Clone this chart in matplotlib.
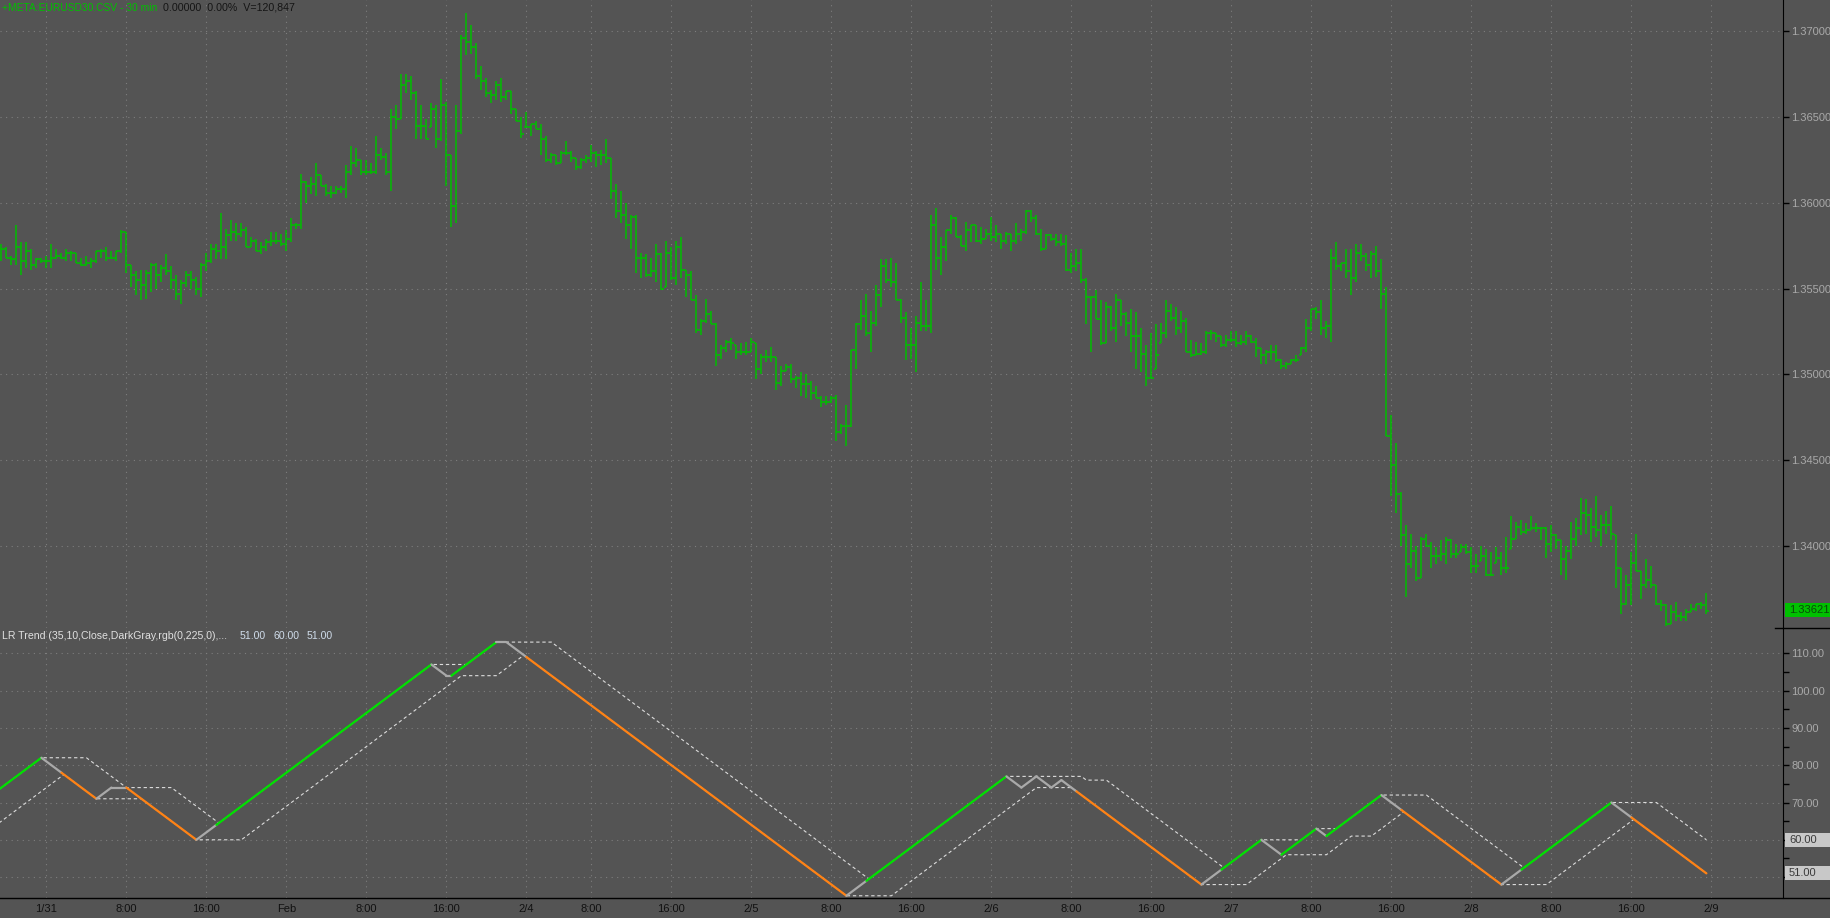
import numpy as np
import matplotlib.pyplot as plt
from matplotlib.patches import Rectangle

# 30 min EURUSD bars, bar index 0 = 1/31 00:00 (first 9 bars are from 1/30)
first_bar = -9

high = [
    1.3576, 1.3574, 1.3569, 1.3587, 1.3577, 1.3577, 1.3573, 1.3568, 1.3568,
    1.3569, 1.3576, 1.3573, 1.3571, 1.3573, 1.3572, 1.3571, 1.3568, 1.3569, 1.3568,
    1.3572, 1.3573, 1.3574, 1.3572, 1.3572, 1.3584, 1.3583, 1.3564, 1.3560, 1.3561,
    1.3561, 1.3565, 1.3565, 1.3564, 1.3570, 1.3563, 1.3558, 1.3555, 1.3560, 1.3560,
    1.3557, 1.3565, 1.3571, 1.3576, 1.3576, 1.3594, 1.3585, 1.3590, 1.3588, 1.3588,
    1.3586, 1.3580, 1.3579, 1.3577, 1.3579, 1.3583, 1.3583, 1.3582, 1.3584, 1.3591,
    1.3588, 1.3617, 1.3613, 1.3615, 1.3623, 1.3616, 1.3611, 1.3610, 1.3610, 1.3610,
    1.3622, 1.3633, 1.3632, 1.3625, 1.3625, 1.3623, 1.3639, 1.3632, 1.3629, 1.3655,
    1.3657, 1.3675, 1.3675, 1.3674, 1.3665, 1.3657, 1.3649, 1.3658, 1.3657, 1.3672,
    1.3659, 1.3628, 1.3657, 1.3698, 1.3711, 1.3704, 1.3693, 1.3680, 1.3673, 1.3666,
    1.3671, 1.3673, 1.3665, 1.3665, 1.3655, 1.3650, 1.3653, 1.3646, 1.3648, 1.3646,
    1.3639, 1.3629, 1.3628, 1.3630, 1.3636, 1.3630, 1.3626, 1.3626, 1.3628, 1.3634,
    1.3630, 1.3631, 1.3637, 1.3626, 1.3611, 1.3607, 1.3600, 1.3593, 1.3593, 1.3571,
    1.3570, 1.3568, 1.3576, 1.3571, 1.3578, 1.3574, 1.3578, 1.3580, 1.3561, 1.3560,
    1.3546, 1.3532, 1.3544, 1.3537, 1.3530, 1.3517, 1.3520, 1.3521, 1.3517, 1.3518,
    1.3519, 1.3521, 1.3518, 1.3512, 1.3514, 1.3516, 1.3510, 1.3505, 1.3506, 1.3506,
    1.3499, 1.3501, 1.3500, 1.3496, 1.3493, 1.3487, 1.3487, 1.3487, 1.3488, 1.3471,
    1.3482, 1.3514, 1.3530, 1.3543, 1.3547, 1.3537, 1.3552, 1.3567, 1.3567, 1.3568,
    1.3565, 1.3544, 1.3536, 1.3527, 1.3534, 1.3554, 1.3543, 1.3593, 1.3597, 1.3580,
    1.3584, 1.3593, 1.3592, 1.3581, 1.3589, 1.3587, 1.3587, 1.3586, 1.3585, 1.3592,
    1.3587, 1.3582, 1.3583, 1.3582, 1.3588, 1.3585, 1.3596, 1.3596, 1.3593, 1.3585,
    1.3582, 1.3582, 1.3582, 1.3582, 1.3581, 1.3571, 1.3573, 1.3573, 1.3556, 1.3545,
    1.3549, 1.3543, 1.3542, 1.3540, 1.3547, 1.3543, 1.3536, 1.3538, 1.3536, 1.3527,
    1.3517, 1.3524, 1.3529, 1.3530, 1.3543, 1.3541, 1.3539, 1.3537, 1.3533, 1.3520,
    1.3519, 1.3518, 1.3525, 1.3526, 1.3524, 1.3522, 1.3523, 1.3525, 1.3525, 1.3523,
    1.3525, 1.3523, 1.3521, 1.3515, 1.3514, 1.3517, 1.3517, 1.3509, 1.3507, 1.3509,
    1.3511, 1.3516, 1.3532, 1.3538, 1.3539, 1.3543, 1.3531, 1.3573, 1.3577, 1.3565,
    1.3573, 1.3573, 1.3576, 1.3576, 1.3571, 1.3572, 1.3575, 1.3567, 1.3551, 1.3476,
    1.3460, 1.3431, 1.3412, 1.3407, 1.3400, 1.3405, 1.3407, 1.3402, 1.3399, 1.3403,
    1.3405, 1.3404, 1.3401, 1.3401, 1.3401, 1.3399, 1.3395, 1.3400, 1.3398, 1.3396,
    1.3399, 1.3396, 1.3405, 1.3417, 1.3414, 1.3415, 1.3413, 1.3417, 1.3413, 1.3411,
    1.3411, 1.3412, 1.3407, 1.3403, 1.3400, 1.3414, 1.3416, 1.3428, 1.3427, 1.3422,
    1.3429, 1.3418, 1.3420, 1.3423, 1.3406, 1.3387, 1.3383, 1.3396, 1.3407, 1.3385,
    1.3392, 1.3388, 1.3377, 1.3368, 1.3366, 1.3365, 1.3367, 1.3361, 1.3363, 1.3366,
    1.3366, 1.3367, 1.3372,
]
low = [
    1.3566, 1.3568, 1.3564, 1.3564, 1.3558, 1.3562, 1.3561, 1.3562, 1.3565,
    1.3562, 1.3562, 1.3567, 1.3567, 1.3566, 1.3566, 1.3565, 1.3563, 1.3563, 1.3562,
    1.3565, 1.3568, 1.3566, 1.3567, 1.3566, 1.3571, 1.3559, 1.3551, 1.3546, 1.3543,
    1.3544, 1.3548, 1.3550, 1.3554, 1.3558, 1.3550, 1.3543, 1.3541, 1.3551, 1.3550,
    1.3546, 1.3545, 1.3560, 1.3565, 1.3567, 1.3567, 1.3567, 1.3578, 1.3578, 1.3580,
    1.3574, 1.3574, 1.3572, 1.3570, 1.3572, 1.3575, 1.3576, 1.3575, 1.3572, 1.3577,
    1.3585, 1.3585, 1.3600, 1.3605, 1.3604, 1.3610, 1.3604, 1.3603, 1.3605, 1.3606,
    1.3603, 1.3616, 1.3621, 1.3616, 1.3616, 1.3617, 1.3617, 1.3625, 1.3616, 1.3607,
    1.3643, 1.3649, 1.3664, 1.3660, 1.3637, 1.3637, 1.3637, 1.3644, 1.3632, 1.3636,
    1.3610, 1.3586, 1.3588, 1.3640, 1.3686, 1.3687, 1.3672, 1.3666, 1.3662, 1.3658,
    1.3660, 1.3659, 1.3660, 1.3652, 1.3648, 1.3638, 1.3644, 1.3639, 1.3643, 1.3628,
    1.3624, 1.3623, 1.3622, 1.3623, 1.3628, 1.3624, 1.3619, 1.3620, 1.3623, 1.3624,
    1.3621, 1.3622, 1.3623, 1.3602, 1.3591, 1.3588, 1.3579, 1.3573, 1.3559, 1.3556,
    1.3557, 1.3557, 1.3554, 1.3549, 1.3551, 1.3555, 1.3552, 1.3556, 1.3545, 1.3543,
    1.3524, 1.3523, 1.3530, 1.3529, 1.3505, 1.3509, 1.3513, 1.3514, 1.3509, 1.3511,
    1.3511, 1.3513, 1.3497, 1.3500, 1.3507, 1.3507, 1.3491, 1.3493, 1.3502, 1.3495,
    1.3492, 1.3487, 1.3486, 1.3485, 1.3486, 1.3481, 1.3482, 1.3483, 1.3461, 1.3465,
    1.3458, 1.3469, 1.3503, 1.3526, 1.3522, 1.3513, 1.3528, 1.3539, 1.3553, 1.3551,
    1.3543, 1.3530, 1.3508, 1.3509, 1.3501, 1.3525, 1.3525, 1.3524, 1.3561, 1.3558,
    1.3566, 1.3582, 1.3580, 1.3575, 1.3572, 1.3577, 1.3577, 1.3576, 1.3579, 1.3578,
    1.3577, 1.3573, 1.3576, 1.3572, 1.3576, 1.3578, 1.3582, 1.3589, 1.3581, 1.3572,
    1.3573, 1.3578, 1.3575, 1.3575, 1.3560, 1.3559, 1.3560, 1.3553, 1.3529, 1.3513,
    1.3532, 1.3517, 1.3518, 1.3525, 1.3519, 1.3528, 1.3522, 1.3513, 1.3503, 1.3501,
    1.3493, 1.3498, 1.3503, 1.3518, 1.3521, 1.3531, 1.3523, 1.3524, 1.3513, 1.3510,
    1.3511, 1.3511, 1.3512, 1.3520, 1.3519, 1.3516, 1.3516, 1.3519, 1.3516, 1.3517,
    1.3517, 1.3518, 1.3510, 1.3506, 1.3506, 1.3508, 1.3507, 1.3503, 1.3503, 1.3506,
    1.3507, 1.3511, 1.3513, 1.3525, 1.3532, 1.3523, 1.3521, 1.3519, 1.3561, 1.3560,
    1.3556, 1.3546, 1.3554, 1.3566, 1.3560, 1.3556, 1.3557, 1.3538, 1.3464, 1.3429,
    1.3419, 1.3400, 1.3370, 1.3387, 1.3379, 1.3381, 1.3399, 1.3387, 1.3389, 1.3391,
    1.3389, 1.3393, 1.3393, 1.3396, 1.3395, 1.3384, 1.3384, 1.3391, 1.3382, 1.3382,
    1.3390, 1.3383, 1.3384, 1.3398, 1.3404, 1.3406, 1.3407, 1.3409, 1.3408, 1.3403,
    1.3393, 1.3396, 1.3398, 1.3383, 1.3380, 1.3392, 1.3400, 1.3406, 1.3407, 1.3402,
    1.3405, 1.3400, 1.3407, 1.3403, 1.3375, 1.3360, 1.3365, 1.3365, 1.3385, 1.3369,
    1.3375, 1.3375, 1.3365, 1.3362, 1.3353, 1.3354, 1.3356, 1.3356, 1.3356, 1.3361,
    1.3362, 1.3363, 1.3360,
]
close = [
    1.3573, 1.3568, 1.3567, 1.3574, 1.3566, 1.3572, 1.3564, 1.3567, 1.3566,
    1.3566, 1.3568, 1.3569, 1.3568, 1.3571, 1.3571, 1.3565, 1.3564, 1.3565, 1.3566,
    1.3572, 1.3572, 1.3568, 1.3568, 1.3572, 1.3583, 1.3564, 1.3558, 1.3555, 1.3552,
    1.3559, 1.3564, 1.3558, 1.3562, 1.3560, 1.3555, 1.3547, 1.3553, 1.3558, 1.3555,
    1.3550, 1.3564, 1.3566, 1.3573, 1.3572, 1.3574, 1.3581, 1.3583, 1.3582, 1.3584,
    1.3574, 1.3578, 1.3572, 1.3574, 1.3577, 1.3578, 1.3578, 1.3576, 1.3579, 1.3587,
    1.3587, 1.3612, 1.3610, 1.3611, 1.3616, 1.3610, 1.3606, 1.3606, 1.3608, 1.3608,
    1.3618, 1.3623, 1.3625, 1.3618, 1.3618, 1.3618, 1.3628, 1.3627, 1.3618, 1.3650,
    1.3649, 1.3669, 1.3671, 1.3664, 1.3645, 1.3645, 1.3637, 1.3655, 1.3637, 1.3657,
    1.3628, 1.3598, 1.3642, 1.3696, 1.3694, 1.3691, 1.3674, 1.3671, 1.3664, 1.3663,
    1.3669, 1.3662, 1.3665, 1.3655, 1.3648, 1.3640, 1.3644, 1.3646, 1.3643, 1.3637,
    1.3625, 1.3628, 1.3623, 1.3629, 1.3629, 1.3626, 1.3621, 1.3625, 1.3626, 1.3629,
    1.3628, 1.3628, 1.3626, 1.3607, 1.3595, 1.3593, 1.3587, 1.3592, 1.3568, 1.3568,
    1.3558, 1.3560, 1.3570, 1.3550, 1.3571, 1.3556, 1.3574, 1.3561, 1.3558, 1.3543,
    1.3526, 1.3531, 1.3535, 1.3529, 1.3511, 1.3515, 1.3519, 1.3518, 1.3513, 1.3513,
    1.3513, 1.3519, 1.3503, 1.3510, 1.3510, 1.3510, 1.3495, 1.3502, 1.3504, 1.3497,
    1.3498, 1.3494, 1.3494, 1.3489, 1.3486, 1.3484, 1.3484, 1.3486, 1.3466, 1.3470,
    1.3470, 1.3514, 1.3529, 1.3534, 1.3524, 1.3530, 1.3546, 1.3563, 1.3555, 1.3554,
    1.3543, 1.3533, 1.3517, 1.3517, 1.3530, 1.3528, 1.3528, 1.3587, 1.3568, 1.3574,
    1.3584, 1.3591, 1.3580, 1.3575, 1.3584, 1.3587, 1.3578, 1.3579, 1.3582, 1.3580,
    1.3582, 1.3578, 1.3582, 1.3578, 1.3582, 1.3583, 1.3595, 1.3591, 1.3582, 1.3573,
    1.3581, 1.3579, 1.3577, 1.3576, 1.3561, 1.3563, 1.3565, 1.3555, 1.3545, 1.3545,
    1.3532, 1.3518, 1.3539, 1.3527, 1.3543, 1.3535, 1.3530, 1.3522, 1.3522, 1.3512,
    1.3498, 1.3498, 1.3511, 1.3524, 1.3537, 1.3533, 1.3527, 1.3531, 1.3513, 1.3511,
    1.3512, 1.3513, 1.3524, 1.3524, 1.3522, 1.3517, 1.3520, 1.3520, 1.3518, 1.3519,
    1.3522, 1.3519, 1.3515, 1.3511, 1.3513, 1.3513, 1.3508, 1.3505, 1.3506, 1.3508,
    1.3508, 1.3515, 1.3527, 1.3538, 1.3536, 1.3527, 1.3528, 1.3568, 1.3563, 1.3565,
    1.3560, 1.3556, 1.3571, 1.3569, 1.3564, 1.3570, 1.3560, 1.3547, 1.3464, 1.3447,
    1.3430, 1.3406, 1.3389, 1.3397, 1.3381, 1.3404, 1.3400, 1.3394, 1.3394, 1.3395,
    1.3403, 1.3395, 1.3395, 1.3399, 1.3396, 1.3388, 1.3388, 1.3394, 1.3383, 1.3383,
    1.3393, 1.3387, 1.3387, 1.3404, 1.3411, 1.3408, 1.3409, 1.3410, 1.3410, 1.3410,
    1.3401, 1.3406, 1.3403, 1.3392, 1.3397, 1.3404, 1.3410, 1.3419, 1.3418, 1.3411,
    1.3409, 1.3412, 1.3412, 1.3407, 1.3387, 1.3366, 1.3377, 1.3390, 1.3385, 1.3377,
    1.3380, 1.3377, 1.3366, 1.3365, 1.3354, 1.3361, 1.3359, 1.3358, 1.3361, 1.3363,
    1.3366, 1.3365, 1.3362,
]
last_price = 1.33621

# LR Trend turning points (bar index, value) and colour of each leg
lr_bar = [-20, -1, 3, 10, 13, 16, 30, 34, 77, 80, 81, 90, 92, 96, 160, 164, 192,
          195, 198, 201, 203, 206, 231, 235, 243, 247, 254, 256, 267, 271, 291,
          295, 313, 317, 332]
lr_val = [63, 82, 78, 71, 74, 74, 60, 64, 107, 104, 104, 113, 113, 109, 45, 49, 77,
          74, 77, 74, 76, 73, 48, 52, 60, 56, 63, 61, 72, 68, 48, 52, 70, 66, 51]
lr_leg = ['u', 'n', 'd', 'n', 'n', 'd', 'n', 'u', 'n', 'n', 'u', 'n', 'n', 'd',
          'n', 'u', 'n', 'n', 'n', 'n', 'n', 'd', 'n', 'u', 'n', 'u', 'n', 'u',
          'n', 'd', 'n', 'u', 'n', 'd']

# 10 bar highest / lowest of the trend line (dashed band)
upper_bar = [-11, -1, 8, 16, 25, 34.5, 77, 84, 90, 101, 164.5, 192, 207, 208, 212,
             235.5, 243, 251, 254, 258, 267, 276, 295.5, 313, 322, 332]
upper_val = [72, 82, 82, 74, 74, 64.5, 107, 107, 113, 113, 49.5, 77, 77, 76, 76,
             52.5, 60, 60, 63, 63, 72, 72, 52.5, 70, 70, 60]
lower_bar = [-11, 3.5, 10, 19, 30, 39, 83, 90, 95.5, 160, 169, 198, 205, 231, 240,
             248, 256, 261, 265, 271.5, 291, 300, 317.5, 332]
lower_val = [63, 77.5, 71, 71, 60, 60, 104, 104, 109.5, 45, 45, 74, 74, 48, 48,
             56, 56, 61, 61, 67.5, 48, 48, 65.5, 51]
lr_labels = ['51.00', '60.00', '51.00']

tick_bars = [0, 16, 32, 48, 64, 80, 96, 109, 125, 141, 157, 173, 189, 205, 221,
             237, 253, 269, 285, 301, 317, 333]
tick_text = ['1/31', '8:00', '16:00', 'Feb', '8:00', '16:00', '2/4', '8:00', '16:00',
             '2/5', '8:00', '16:00', '2/6', '8:00', '16:00', '2/7', '8:00', '16:00',
             '2/8', '8:00', '16:00', '2/9']

BG = '#545454'
GRID = '#7e7e7e'
BAR = '#00bf00'
AXTXT = '#a9a9a9'
leg_col = {'u': '#00e100', 'd': '#ff8214', 'n': '#a9a9a9'}

plt.rcParams['font.family'] = ['Liberation Sans', 'DejaVu Sans']

W, H = 1830, 918
fig = plt.figure(figsize=(W / 100, H / 100), dpi=100, facecolor=BG)
ax = fig.add_axes([0, 1 - 628 / H, 1783 / W, 628 / H], facecolor=BG)
ax2 = fig.add_axes([0, 1 - 898 / H, 1783 / W, 270 / H], facecolor=BG, sharex=ax)

# price bars
x = np.arange(len(high)) + first_bar
high = np.array(high)
low = np.array(low)
close = np.array(close)
open_ = np.clip(np.r_[close[0], close[:-1]], low, high)
ax.vlines(x, low, high, color=BAR, lw=1.1)
ax.hlines(open_, x - 0.45, x, color=BAR, lw=1.1)
ax.hlines(close, x, x + 0.45, color=BAR, lw=1.1)

ax.set_xlim(-9.28, 347.32)
ax.set_ylim(1.335186, 1.371838)
ax.set_yticks(np.arange(1.340, 1.3701, 0.005))
ax.yaxis.set_major_formatter(plt.FormatStrFormatter('%.5f'))

# indicator
ax2.plot(upper_bar, upper_val, color='#dcdcdc', lw=0.8, dashes=(3, 2.5), zorder=2)
ax2.plot(lower_bar, lower_val, color='#dcdcdc', lw=0.8, dashes=(3, 2.5), zorder=2)
for i, c in enumerate(lr_leg):
    ax2.plot(lr_bar[i:i + 2], lr_val[i:i + 2], color=leg_col[c], lw=1.6,
             solid_capstyle='round', zorder=3)
ax2.set_ylim(44.4, 116.78)

for a in (ax, ax2):
    for s in ('left', 'top', 'bottom'):
        a.spines[s].set_visible(False)
    a.spines['right'].set_color('black')
    a.yaxis.tick_right()
    a.tick_params(axis='y', which='both', length=4, width=1, color='black',
                  labelcolor=AXTXT, labelsize=8, pad=2)
    a.set_xticks(tick_bars)
    a.grid(True, color=GRID, lw=0.8, linestyle=(0, (1, 4)))
    a.set_axisbelow(True)

ax2.set_yticks([50, 60, 70, 80, 90, 100, 110])
ax2.set_yticklabels(['', '', '70.00', '80.00', '90.00', '100.00', '110.00'])
ax2.set_yticks([55, 65, 75, 85, 95, 105], minor=True)
ax.tick_params(axis='x', length=0, labelbottom=False)
ax2.tick_params(axis='x', length=0, labelsize=8, labelcolor='#111111', pad=4)
ax2.set_xticklabels(tick_text)

# pane borders
fig.add_artist(plt.Line2D([1775 / W, 1], [1 - 628 / H, 1 - 628 / H], color='black', lw=1))
fig.add_artist(plt.Line2D([0, 1], [1 - 898 / H, 1 - 898 / H], color='black', lw=1))


# value boxes on the right axis
def value_box(axis, yval, text, face, tcol):
    yt = axis.transData.transform((0, yval))[1] / H
    fig.add_artist(Rectangle((1785 / W, yt - 7 / H), 45 / W, 14 / H,
                             transform=fig.transFigure, facecolor=face, edgecolor='none'))
    fig.text(1789 / W, yt, text, color=tcol, fontsize=8, va='center', ha='left')


value_box(ax, last_price, '%.5f' % last_price, '#00c000', '#0a4a0a')
value_box(ax2, 60, '60.00', '#c8c8c8', '#3a3a3a')
value_box(ax2, 51, '51.00', '#c8c8c8', '#3a3a3a')

# header texts
fig.text(2 / W, 1 - 8 / H, '+META:EURUSD30.CSV - 30 min', color='#00c000',
         fontsize=7.35, va='center')
fig.text(163 / W, 1 - 8 / H, '0.00000  0.00%  V=120,847', color='#151515',
         fontsize=7.7, va='center')
fig.text(2 / W, 1 - 636 / H, 'LR Trend (35,10,Close,DarkGray,rgb(0,225,0),...',
         color='#e0e0e0', fontsize=7.6, va='center')
for xp, s in zip([240, 273, 307], lr_labels):
    fig.text(xp / W, 1 - 636 / H, s, color='#cfdcea', fontsize=7.6, va='center')

fig.savefig('out.png', dpi=100, facecolor=BG)
